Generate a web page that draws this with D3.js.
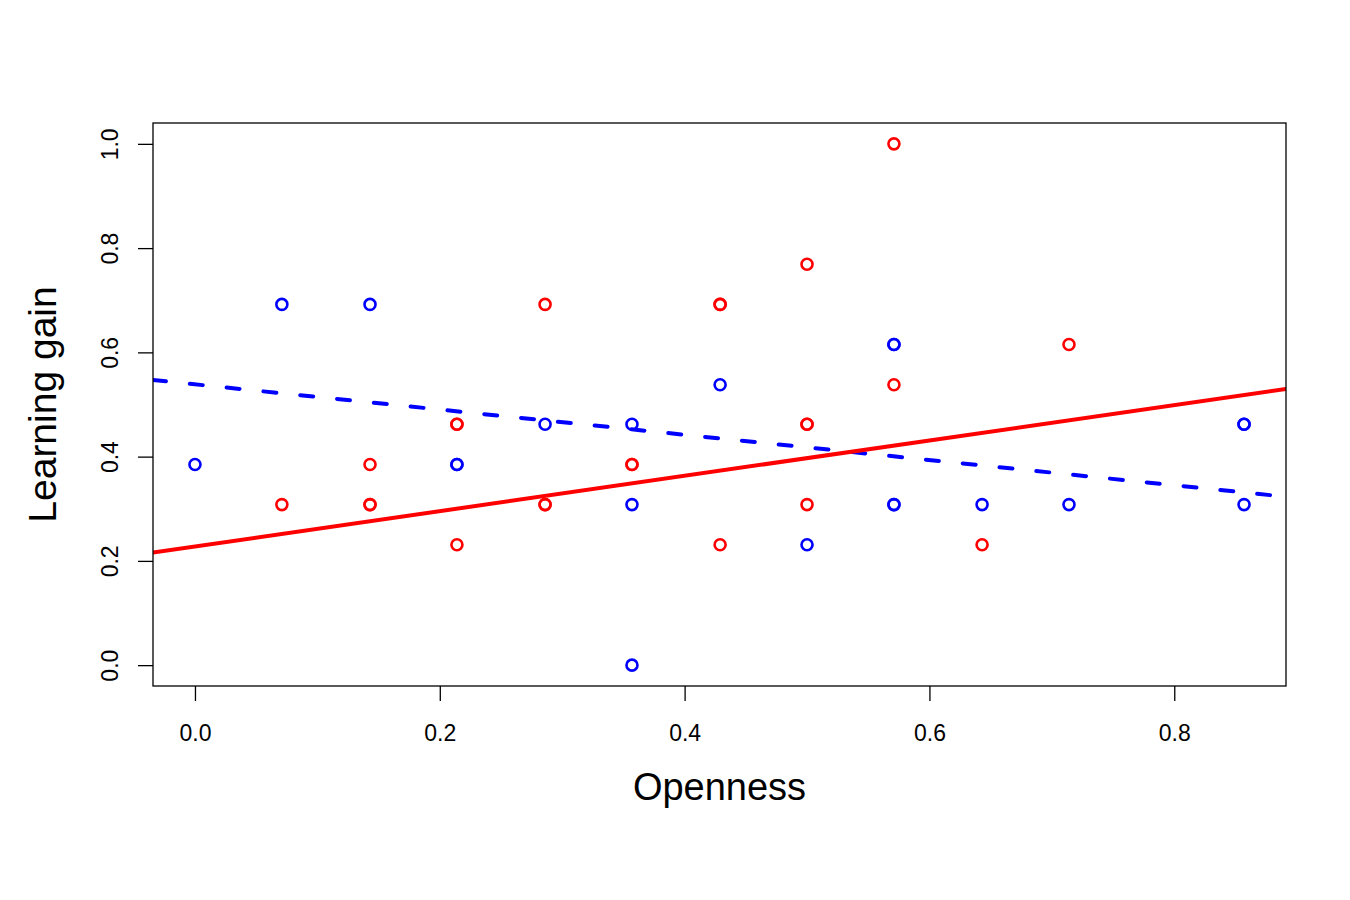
<!DOCTYPE html>
<html>
<head>
<meta charset="utf-8">
<script src="https://cdn.jsdelivr.net/npm/d3@7"></script>
<style>
  body { margin: 0; background: #fff; }
  text { font-family: 'Liberation Sans', Arial, sans-serif; }
</style>
</head>
<body>
<div id="chart"></div>
<script>
// group A (blue, dashed fit) and group B (red, solid fit)
const blueOpenness = [0, 0.071, 0.143, 0.214, 0.214, 0.286, 0.357, 0.357, 0.357, 0.429,
  0.5, 0.571, 0.571, 0.571, 0.571, 0.643, 0.714, 0.857, 0.857, 0.857];
const blueGain = [0.385, 0.692, 0.692, 0.385, 0.385, 0.462, 0.462, 0.308, 0, 0.538,
  0.231, 0.615, 0.615, 0.308, 0.308, 0.308, 0.308, 0.462, 0.462, 0.308];

const redOpenness = [0.071, 0.143, 0.143, 0.143, 0.214, 0.214, 0.214, 0.286, 0.286, 0.286,
  0.357, 0.357, 0.429, 0.429, 0.429, 0.5, 0.5, 0.5, 0.5, 0.571, 0.571, 0.643, 0.714];
const redGain = [0.308, 0.385, 0.308, 0.308, 0.462, 0.462, 0.231, 0.692, 0.308, 0.308,
  0.385, 0.385, 0.692, 0.692, 0.231, 0.769, 0.462, 0.462, 0.308, 1.0, 0.538, 0.231, 0.615];

// fitted lines: [intercept, slope]
const blueFit = [0.5387, -0.242];
const redFit = [0.2276, 0.339];

const xTicks = [0, 0.2, 0.4, 0.6, 0.8];
const yTicks = [0, 0.2, 0.4, 0.6, 0.8, 1.0];

const width = 1350;
const height = 900;
const margin = { top: 123, right: 64, bottom: 214, left: 153 };
const plotW = width - margin.left - margin.right;
const plotH = height - margin.top - margin.bottom;

// R style axes: data range padded by 4% on each side
const pad = (ext) => {
  const d = (ext[1] - ext[0]) * 0.04;
  return [ext[0] - d, ext[1] + d];
};
const allX = blueOpenness.concat(redOpenness);
const allY = blueGain.concat(redGain);

const xScale = d3.scaleLinear().domain(pad(d3.extent(allX))).range([0, plotW]);
const yScale = d3.scaleLinear().domain(pad(d3.extent(allY))).range([plotH, 0]);

const svg = d3.select('#chart').append('svg')
  .attr('width', width)
  .attr('height', height);

const bounds = svg.append('g')
  .attr('transform', `translate(${margin.left},${margin.top})`);

bounds.append('clipPath').attr('id', 'clip')
  .append('rect').attr('width', plotW).attr('height', plotH);

const plotArea = bounds.append('g').attr('clip-path', 'url(#clip)');

function drawPoints(xs, ys, color) {
  plotArea.append('g').selectAll('circle')
    .data(xs.map((x, i) => [x, ys[i]]))
    .join('circle')
    .attr('cx', d => xScale(d[0]))
    .attr('cy', d => yScale(d[1]))
    .attr('r', 5.5)
    .attr('fill', 'none')
    .attr('stroke', color)
    .attr('stroke-width', 2.6);
}
drawPoints(blueOpenness, blueGain, '#0000ff');
drawPoints(redOpenness, redGain, '#ff0000');

function drawFit(fit, color, dash) {
  const [x0, x1] = xScale.domain();
  const line = d3.line().x(d => xScale(d)).y(d => yScale(fit[0] + fit[1] * d));
  plotArea.append('path')
    .attr('d', line([x0, x1]))
    .attr('fill', 'none')
    .attr('stroke', color)
    .attr('stroke-width', 4)
    .attr('stroke-linecap', 'round')
    .attr('stroke-dasharray', dash);
}
drawFit(blueFit, '#0000ff', '13,24');
drawFit(redFit, '#ff0000', null);

// box
bounds.append('rect')
  .attr('width', plotW)
  .attr('height', plotH)
  .attr('fill', 'none')
  .attr('stroke', '#000')
  .attr('stroke-width', 1.3);

// axes
const xAxis = bounds.append('g')
  .attr('transform', `translate(0,${plotH})`)
  .call(d3.axisBottom(xScale).tickValues(xTicks).tickFormat(d3.format('.1f'))
    .tickSize(15).tickPadding(24));

const yAxis = bounds.append('g')
  .call(d3.axisLeft(yScale).tickValues(yTicks).tickFormat(d3.format('.1f'))
    .tickSize(15));

[xAxis, yAxis].forEach(ax => {
  ax.select('.domain').remove();
  ax.selectAll('.tick line').attr('stroke', '#000').attr('stroke-width', 1.3);
  ax.selectAll('.tick text')
    .attr('fill', '#000')
    .style('font-size', '23px')
    .style('font-family', "'Liberation Sans', Arial, sans-serif");
});

// y tick labels rotated like R's default
yAxis.selectAll('.tick text')
  .attr('x', null).attr('dy', null)
  .attr('transform', 'translate(-35,0) rotate(-90)')
  .attr('text-anchor', 'middle');

svg.append('text')
  .attr('x', margin.left + plotW / 2)
  .attr('y', 800)
  .attr('text-anchor', 'middle')
  .style('font-size', '38px')
  .text('Openness');

svg.append('text')
  .attr('transform', `translate(56,${margin.top + plotH / 2}) rotate(-90)`)
  .attr('text-anchor', 'middle')
  .style('font-size', '39px')
  .text('Learning gain');
</script>
</body>
</html>
